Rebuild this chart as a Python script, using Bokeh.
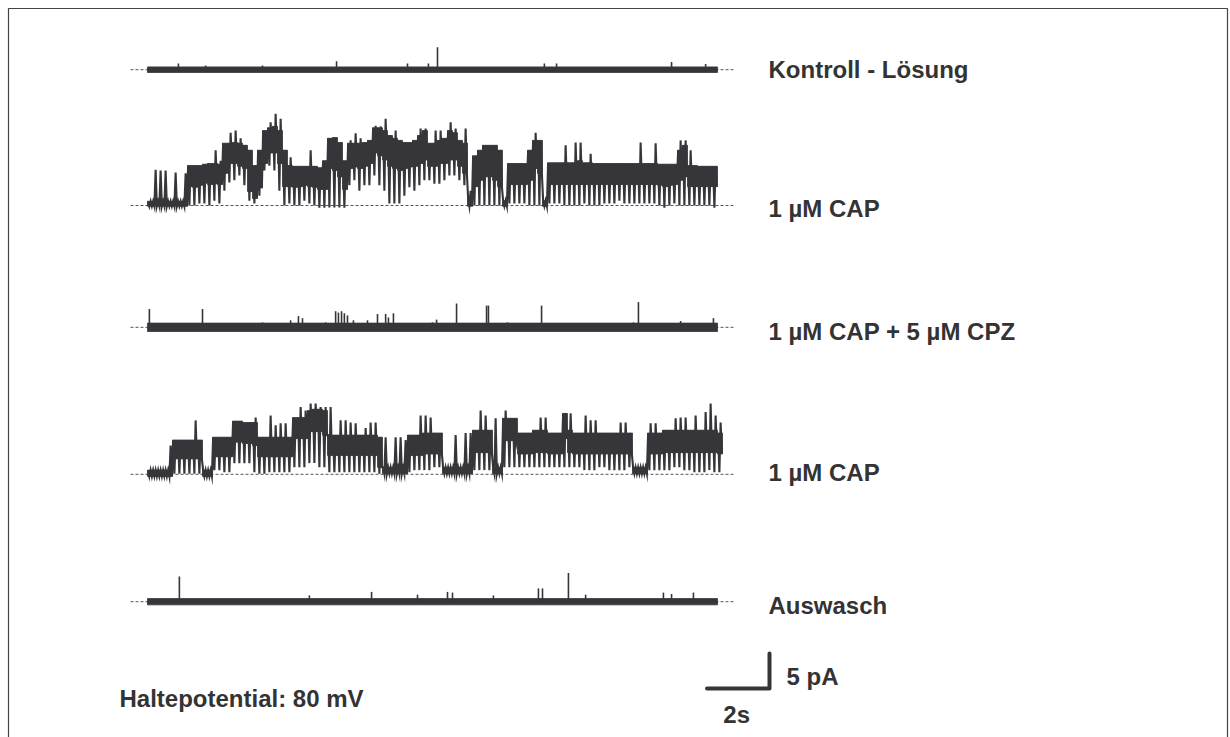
from bokeh.plotting import figure
from bokeh.models import Range1d, Label, ColumnDataSource
from bokeh.embed import file_html
from bokeh.resources import INLINE

# ---------------------------------------------------------------------------
# Recording data (current in pA relative to the closed level, time in s)
# Gated traces are stored as an envelope per 0.16 s bin:
#   TOP/LOW   - edges of the densely visited open level
#   SPIKE     - brief excursions above the dense level
#   FLICK     - deepest brief closing inside the bin
# ---------------------------------------------------------------------------
DT = 0.16          # bin width, s
SCALE_T = 2        # time scale bar, s
SCALE_I = 5        # current scale bar, pA

CAP1_TOP = [0.6, 0.6, 0.6, 0.6, 0.6, 0.6, 0.6, 0.6,
            5.7, 5.7, 5.7, 5.9, 6.0, 6.0, 5.9,
            8.9, 8.9, 9.0, 8.9, 8.6,
            7.9, 5.7, 7.9,
            10.7, 11.1, 11.3, 10.7,
            7.9, 5.7, 5.6, 5.6, 5.6, 5.6, 5.6, 5.4,
            6.4, 9.6, 9.7, 9.0, 6.4,
            8.9, 8.9, 8.9, 9.0, 9.3,
            11.1, 11.1, 10.7, 10.0, 9.6, 9.3, 9.0, 9.0, 9.3, 10.0, 10.7,
            8.9, 8.9, 9.3, 9.6, 10.7, 10.4, 9.3, 8.9,
            1.0,
            7.1, 7.9, 8.6, 8.6, 8.6, 7.9,
            0.7,
            6.0, 6.0, 6.0, 6.0,
            7.9, 9.3, 9.3,
            0.7,
            6.1, 6.1, 6.1, 6.1, 6.1, 6.1, 6.4, 6.1, 6.1,
            6.0, 6.0, 6.0, 6.0, 6.0, 6.0, 6.0, 6.0, 6.0, 6.0, 6.0, 6.0, 6.0,
            5.9, 5.9, 5.9, 5.9,
            7.9, 8.6,
            5.7, 5.7, 5.6, 5.6, 5.6, 5.6]
CAP1_LOW = [-0.1, -0.1, -0.1, -0.1, -0.1, -0.1, -0.1, -0.1,
            2.7, 2.6, 2.9, 3.2, 3.0, 3.1, 3.0,
            4.6, 6.0, 6.0, 5.6, 5.3,
            2.0, 1.0, 2.5,
            6.0, 7.5, 7.5, 6.0,
            2.7, 2.7, 2.6, 2.7, 2.9, 2.7, 2.6, 2.3,
            2.3, 5.3, 5.0, 4.1, 2.3,
            5.3, 5.5, 5.3, 5.6, 6.0,
            7.5, 7.1, 6.5, 5.6, 5.3, 5.0, 5.3, 5.5, 5.6, 6.0, 6.5,
            5.6, 5.6, 6.0, 6.0, 6.5, 6.5, 5.6, 4.6,
            -0.1,
            2.7, 3.6, 4.1, 4.1, 3.6, 2.7,
            -0.1,
            3.0, 3.0, 3.0, 3.0,
            3.6, 5.3, 4.6,
            -0.1,
            3.0, 3.0, 3.0, 3.0, 3.0, 3.0, 3.0, 3.0, 3.0,
            3.0, 3.0, 3.0, 3.0, 3.0, 3.0, 3.0, 3.0, 3.0, 3.0, 3.0, 3.0, 3.0,
            2.9, 2.7, 2.9, 3.0,
            3.6, 4.1,
            2.7, 2.7, 2.7, 2.7, 2.7, 2.7]
CAP1_SPIKE = [0.6, 5.1, 5.0, 5.0, 0.6, 4.7, 0.6, 4.6,
              5.7, 5.7, 5.7, 5.9, 6.0, 7.9, 6.4,
              8.9, 10.4, 10.7, 9.6, 8.6,
              7.9, 5.7, 7.9,
              10.7, 11.9, 13.1, 12.4,
              7.9, 6.9, 5.6, 5.6, 5.6, 7.9, 5.6, 5.4,
              6.4, 9.6, 9.7, 9.0, 6.4,
              9.3, 10.3, 9.6, 9.0, 9.3,
              11.4, 11.3, 12.4, 10.0, 10.7, 9.3, 9.0, 9.0, 9.3, 11.0, 11.0,
              8.9, 10.7, 10.7, 9.6, 11.9, 11.0, 9.3, 11.0,
              2.1,
              7.1, 7.9, 8.6, 8.6, 8.6, 7.9,
              0.7,
              6.0, 6.0, 6.0, 6.0,
              7.9, 10.4, 9.3,
              0.7,
              6.1, 6.1, 6.1, 8.6, 6.1, 9.0, 9.0, 6.1, 7.4,
              6.0, 6.0, 6.0, 6.0, 6.0, 6.0, 6.0, 6.0, 6.0, 9.0, 6.0, 6.0, 8.9,
              5.9, 5.9, 5.9, 5.9,
              9.3, 9.3,
              7.9, 5.7, 5.6, 5.6, 5.6, 5.6]
CAP1_FLICK = [-0.1, -0.1, -0.1, -0.1, -0.1, -0.1, -0.1, -0.1,
              0.0, 0.0, 0.3, 0.3, 0.0, 0.7, 0.3,
              2.1, 3.3, 3.6, 4.3, 2.9,
              0.7, 0.3, 1.4,
              5.0, 5.7, 5.0, 2.1,
              0.0, 0.3, 0.0, 0.0, 0.7, 0.3, 0.0, -0.3,
              -0.3, -0.3, -0.3, -0.3, -0.3,
              2.9, 3.6, 2.1, 2.9, 2.9,
              4.3, 2.9, 2.1, 0.3, 0.3, 0.3, 1.4, 2.6, 2.1, 2.9, 3.6,
              3.6, 3.1, 3.1, 3.6, 4.3, 4.3, 3.6, 2.9,
              -0.1,
              0.0, 0.0, 0.0, 0.0, 0.0, 0.0,
              -0.1,
              0.3, 0.3, 0.3, 0.3,
              0.0, 0.0, 0.0,
              -0.1,
              0.3, 0.3, 0.3, 0.0, 0.0, 0.0, 0.0, 0.3, 0.0,
              0.0, 0.0, 0.3, 0.3, 0.3, 0.7, 0.3, 0.3, 0.3, 0.3, 0.3, 0.3, 0.3,
              0.0, -0.3, 0.0, 0.3,
              0.0, 0.0,
              0.0, 0.0, 0.0, 0.0, 0.0, -0.3]

CAP2_TOP = [0.6, 0.6, 0.6, 0.6, 0.6,
            4.9, 4.9, 4.9, 4.9, 4.9, 4.9,
            0.6, 0.6,
            5.3, 5.3, 5.3, 5.3,
            7.6, 7.6, 7.4, 7.4, 7.4,
            5.3, 5.3, 5.3, 5.3, 5.3, 5.3, 5.3,
            8.1, 8.1, 8.1,
            9.1, 9.3, 9.3, 9.1,
            5.6, 5.6, 5.6, 5.6, 5.6, 5.6, 5.6, 5.6, 5.6, 5.6, 5.3,
            1.0, 1.0, 1.0, 1.0, 1.0,
            5.6, 5.6, 5.6,
            5.9, 5.9, 5.9, 5.9,
            1.0, 1.0, 1.0, 1.0, 1.0, 1.0,
            6.3, 6.3, 6.3, 6.3,
            1.0, 1.0,
            8.0, 8.0, 8.0,
            5.9, 5.9, 5.9,
            6.3, 6.3, 6.3,
            5.9, 5.9, 5.9,
            8.7, 6.3,
            5.9, 5.9, 5.9, 5.9, 5.9, 5.9, 5.9, 5.9, 5.9, 5.9, 5.9, 5.9,
            1.0, 1.0, 1.0,
            5.9, 5.9, 5.9,
            6.3, 6.3, 6.3, 6.3, 6.3, 6.3, 6.3, 6.3, 6.3, 6.3, 6.3,
            5.9]
CAP2_LOW = [-0.3, -0.3, -0.3, -0.3, -0.3,
            2.2, 2.2, 2.2, 2.2, 2.2, 2.2,
            -0.3, -0.3,
            2.5, 2.5, 2.5, 2.5,
            4.6, 4.6, 4.4, 4.4, 4.1,
            2.5, 2.5, 2.5, 2.5, 2.5, 2.5, 2.5,
            5.1, 5.1, 5.1,
            6.1, 6.1, 6.1, 5.6,
            2.7, 2.7, 2.7, 2.7, 2.7, 2.7, 2.7, 2.7, 2.7, 2.7, 1.0,
            0.1, 0.1, 0.1, 0.1, 0.1,
            2.7, 2.7, 2.7,
            2.9, 2.9, 2.9, 2.9,
            0.1, 0.1, 0.1, 0.1, 0.1, 0.1,
            3.1, 3.1, 3.1, 3.1,
            0.1, 0.1,
            4.8, 4.8, 4.8,
            2.9, 2.9, 2.9,
            3.1, 3.1, 3.1,
            2.9, 2.9, 2.9,
            5.1, 3.1,
            2.9, 2.9, 2.9, 2.9, 2.9, 2.9, 2.9, 2.9, 2.9, 2.9, 2.9, 2.9,
            0.1, 0.1, 0.1,
            2.9, 2.9, 2.9,
            3.1, 3.1, 3.1, 3.1, 3.1, 3.1, 3.1, 3.1, 3.1, 3.1, 3.1,
            2.9]
CAP2_SPIKE = [0.6, 0.6, 0.6, 0.6, 4.1,
              4.9, 4.9, 4.9, 4.9, 7.7, 4.9,
              0.6, 0.6,
              5.3, 5.3, 5.3, 5.3,
              7.6, 7.6, 7.4, 7.4, 8.1,
              5.3, 5.3, 8.4, 7.0, 7.3, 7.3, 5.3,
              8.1, 9.6, 9.1,
              10.1, 10.1, 9.6, 9.6,
              9.6, 5.6, 7.7, 7.7, 7.4, 7.3, 5.6, 6.6, 7.4, 7.4, 5.3,
              5.3, 1.0, 5.3, 5.3, 4.9,
              5.6, 5.6, 8.4,
              8.4, 8.1, 5.9, 5.9,
              1.0, 1.0, 5.6, 1.0, 5.9, 5.9,
              6.3, 9.1, 8.4, 6.3,
              8.0, 1.0,
              9.1, 8.0, 8.0,
              5.9, 5.9, 5.9,
              6.3, 8.1, 8.1,
              5.9, 5.9, 5.9,
              8.7, 8.7,
              5.9, 5.9, 8.4, 7.7, 7.7, 5.9, 5.9, 5.9, 5.9, 7.4, 7.4, 5.9,
              1.0, 1.0, 1.0,
              7.3, 7.3, 5.9,
              6.3, 6.3, 8.0, 8.1, 8.1, 6.3, 8.4, 6.3, 8.9, 10.1, 8.4,
              7.4]
CAP2_FLICK = [-0.3, -0.3, -0.3, -0.3, -0.3,
              0.1, 0.1, 0.1, 0.1, 0.1, 0.1,
              -0.3, -0.3,
              0.6, 0.6, 0.3, 0.3,
              1.6, 1.6, 1.6, 1.6, 0.3,
              0.1, 0.1, 0.3, 0.3, 0.3, 0.3, 0.3,
              1.0, 1.0, 1.0,
              1.6, 1.6, 1.0, 1.0,
              0.3, 0.3, 0.3, 0.3, 0.3, 0.3, 0.3, 0.3, 0.3, 0.3, 0.1,
              0.1, 0.1, 0.1, 0.1, 0.1,
              0.3, 0.6, 0.6,
              0.6, 0.6, 1.0, 1.0,
              0.1, 0.1, 0.1, 0.1, 0.1, 0.1,
              0.6, 0.6, 0.6, 0.6,
              0.1, 0.1,
              1.0, 1.0, 1.0,
              1.0, 1.0, 1.0,
              1.0, 1.0, 1.0,
              1.0, 1.0, 1.0,
              1.0, 1.0,
              1.0, 1.0, 0.6, 0.6, 0.6, 1.0, 1.0, 0.6, 0.6, 0.6, 0.6, 1.0,
              0.1, 0.1, 0.1,
              0.6, 0.6, 0.6,
              0.6, 0.6, 1.0, 1.0, 0.6, 0.6, 0.3, 0.3, 0.3, 0.6, 0.3,
              0.3]

# Quiet traces: baseline noise plus isolated brief openings (time s, amplitude pA)
QUIET_DURATION = 18.24
CTRL_NOISE = 0.4
CTRL_EVENT_T = [0.99, 1.86, 3.68, 6.05, 8.32, 8.99, 9.28, 12.70, 13.09, 16.77, 17.86]
CTRL_EVENT_A = [0.9, 0.6, 0.6, 1.2, 0.9, 0.9, 3.2, 0.9, 0.9, 1.1, 0.8]

CPZ_NOISE = 0.6
CPZ_EVENT_T = [0.06, 0.35, 1.76, 2.50, 3.68, 4.58, 4.83, 4.96, 5.31, 5.70,
               6.02, 6.11, 6.21, 6.30, 6.40, 6.59, 7.04, 7.36, 7.62, 7.71,
               7.87, 8.48, 9.12, 9.25, 9.89, 10.18, 10.85, 10.91, 11.52,
               12.61, 15.55, 15.71, 17.06, 18.11]
CPZ_EVENT_A = [2.6, 0.6, 2.6, 0.6, 0.7, 1.0, 1.6, 1.3, 0.6, 0.7,
               2.3, 2.1, 2.3, 2.0, 1.7, 1.0, 1.0, 1.9, 1.9, 1.4,
               2.0, 0.4, 0.7, 1.1, 3.4, 0.6, 3.1, 3.1, 0.7,
               3.1, 0.7, 3.6, 0.9, 1.3]

WASH_NOISE = 0.45
WASH_EVENT_T = [1.02, 5.18, 7.17, 8.64, 9.60, 9.76, 11.07, 12.51, 12.64,
                13.47, 14.02, 16.51, 16.77, 17.47]
WASH_EVENT_A = [3.6, 0.9, 1.4, 1.0, 1.4, 1.3, 0.9, 1.9, 1.9,
                4.1, 1.0, 1.3, 1.1, 1.3]

LABELS = ["Kontroll - Lösung", "1 µM CAP", "1 µM CAP + 5 µM CPZ", "1 µM CAP", "Auswasch"]
HOLDING = "Haltepotential: 80 mV"

# ---------------------------------------------------------------------------
# Layout
# ---------------------------------------------------------------------------
W, H = 1230, 737
PX_PER_S = 31.25
PX_PER_PA = 7.0
T0_PX = 147                      # horizontal pixel of t = 0
OFFSETS = [95.4, 76.0, 58.6, 37.6, 19.4]   # vertical position of each closed level
INK = "#36363a"
TEXT = "#333333"
FONT = "Liberation Sans"

p = figure(width=W, height=H, output_backend="svg", toolbar_location=None,
           x_range=Range1d(-T0_PX / PX_PER_S, (W - T0_PX) / PX_PER_S),
           y_range=Range1d(0, H / PX_PER_PA),
           min_border=0, background_fill_color="white", border_fill_color="white")
p.axis.visible = False
p.grid.visible = False
p.outline_line_color = None


def px_x(px):
    return (px - T0_PX) / PX_PER_S


def px_y(py):
    return (H - py) / PX_PER_PA


# frame round the figure
p.quad(left=px_x(8), right=px_x(1227), bottom=px_y(745), top=px_y(8),
       fill_color=None, line_color="#444444", line_width=1.2)

# dashed closed-level references
DASH_T0, DASH_T1 = px_x(130), px_x(735)
p.segment(x0=[DASH_T0] * 5, x1=[DASH_T1] * 5, y0=OFFSETS, y1=OFFSETS,
          line_color="#555555", line_width=1, line_dash="3 2")


def quiet_trace(base, half, ev_t, ev_a):
    p.quad(left=0, right=QUIET_DURATION, bottom=base - half, top=base + half,
           fill_color=INK, line_color=INK, line_width=0.8)
    p.segment(x0=ev_t, x1=ev_t, y0=[base] * len(ev_t),
              y1=[base + a for a in ev_a], line_color=INK, line_width=1.6)


def gated_trace(base, top, low, spike, flick):
    n = len(top)
    # densely visited open level as a solid band
    src = ColumnDataSource(dict(
        t=[(i + 0.5) * DT for i in range(n)],
        top=[base + v for v in top],
        low=[base + v for v in low],
    ))
    p.vbar(x="t", width=DT, top="top", bottom="low", source=src,
           fill_color=INK, line_color=INK, line_width=0.8)
    # each bin is also traced as top -> flick -> spike -> low, giving the
    # scribble of brief closings and openings around the band
    xs, ys = [], []
    for i in range(n):
        for k, v in enumerate((top[i], flick[i], spike[i], low[i])):
            xs.append(i * DT + (k + 0.5) * DT / 4)
            ys.append(base + v)
    p.line(x=xs, y=ys, line_color=INK, line_width=2.1, line_join="miter")


quiet_trace(OFFSETS[0], CTRL_NOISE, CTRL_EVENT_T, CTRL_EVENT_A)
gated_trace(OFFSETS[1], CAP1_TOP, CAP1_LOW, CAP1_SPIKE, CAP1_FLICK)
quiet_trace(OFFSETS[2], CPZ_NOISE, CPZ_EVENT_T, CPZ_EVENT_A)
gated_trace(OFFSETS[3], CAP2_TOP, CAP2_LOW, CAP2_SPIKE, CAP2_FLICK)
quiet_trace(OFFSETS[4], WASH_NOISE, WASH_EVENT_T, WASH_EVENT_A)

# condition labels
LABEL_X = px_x(768)
LABEL_DY = [0.0, -0.4, -0.6, 0.3, -0.6]
for txt, base, dy in zip(LABELS, OFFSETS, LABEL_DY):
    p.add_layout(Label(x=LABEL_X, y=base + dy, text=txt, text_font=FONT,
                       text_font_style="bold", text_font_size="24px",
                       text_color=TEXT, text_baseline="middle", text_align="left"))

p.add_layout(Label(x=px_x(119), y=px_y(698), text=HOLDING, text_font=FONT,
                   text_font_style="bold", text_font_size="24px",
                   text_color=TEXT, text_baseline="middle", text_align="left"))

# scale bar
SB_T = px_x(769)
SB_Y = px_y(688)
p.line(x=[SB_T - SCALE_T, SB_T, SB_T], y=[SB_Y, SB_Y, SB_Y + SCALE_I],
       line_color=INK, line_width=4, line_cap="round", line_join="round")
p.add_layout(Label(x=px_x(786), y=px_y(676), text=f"{SCALE_I} pA", text_font=FONT,
                   text_font_style="bold", text_font_size="24px",
                   text_color=TEXT, text_baseline="middle", text_align="left"))
p.add_layout(Label(x=SB_T - SCALE_T / 2 - 0.05, y=px_y(714), text=f"{SCALE_T}s",
                   text_font=FONT, text_font_style="bold", text_font_size="24px",
                   text_color=TEXT, text_baseline="middle", text_align="center"))

open("out.html", "w").write(file_html(p, INLINE))
